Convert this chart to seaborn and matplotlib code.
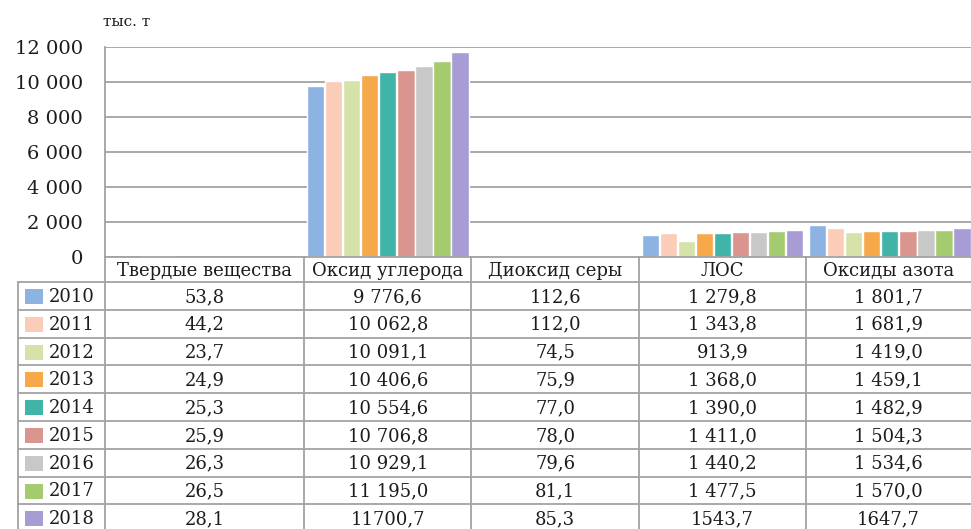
#import libraries
import pandas as pd
import seaborn as sns
import matplotlib.pyplot as plt
from matplotlib.patches import Rectangle

#data (table text as printed, values parsed from it)
categories = ['Твердые вещества', 'Оксид углерода', 'Диоксид серы', 'ЛОС', 'Оксиды азота']
years = ['2010', '2011', '2012', '2013', '2014', '2015', '2016', '2017', '2018']
solids = ['53,8', '44,2', '23,7', '24,9', '25,3', '25,9', '26,3', '26,5', '28,1']
carbon_oxide = ['9 776,6', '10 062,8', '10 091,1', '10 406,6', '10 554,6', '10 706,8', '10 929,1', '11 195,0', '11700,7']
sulfur_dioxide = ['112,6', '112,0', '74,5', '75,9', '77,0', '78,0', '79,6', '81,1', '85,3']
vocs = ['1 279,8', '1 343,8', '913,9', '1 368,0', '1 390,0', '1 411,0', '1 440,2', '1 477,5', '1543,7']
nitrogen_oxides = ['1 801,7', '1 681,9', '1 419,0', '1 459,1', '1 482,9', '1 504,3', '1 534,6', '1 570,0', '1647,7']
colors = ['#8DB3E2', '#FBCDB8', '#D6E3A8', '#F6A84B', '#3FB4A7', '#DA958F', '#C8C8C8', '#A5CB6F', '#A89CD5']
y_ticks = [0, 2000, 4000, 6000, 8000, 10000, 12000]
unit = 'тыс. т'

columns = [solids, carbon_oxide, sulfur_dioxide, vocs, nitrogen_oxides]

def to_num(s):
    return float(s.replace(' ', '').replace(',', '.'))

rows = []
for cat, col in zip(categories, columns):
    for yr, s in zip(years, col):
        rows.append({'category': cat, 'year': yr, 'value': to_num(s)})
df = pd.DataFrame(rows)

#style
sns.set_style('white')
plt.rcParams['font.family'] = ['DejaVu Serif']
grey = '#A3A3A3'
ink = '#1C1C1C'

W, H = 971, 529
fig = plt.figure(figsize=(W / 100, H / 100), dpi=100)
ax = fig.add_axes([105 / W, 1 - 257 / H, (W - 105) / W, (257 - 47) / H])

sns.barplot(data=df, x='category', y='value', hue='year', order=categories,
            hue_order=years, palette=colors, width=0.97, gap=0.04,
            saturation=1, legend=False, ax=ax)

ax.set_xlim(-0.69, 4.485)
ax.set_ylim(0, 12000)
ax.set_yticks(y_ticks)
ax.set_yticklabels([f'{v:,}'.replace(',', ' ') for v in y_ticks])
ax.set_xlabel('')
ax.set_ylabel('')
ax.tick_params(axis='x', bottom=False, labelbottom=False)
ax.tick_params(axis='y', length=12, width=1.3, color=grey, labelsize=14,
               pad=4, labelcolor=ink)
ax.grid(axis='y', color=grey, lw=1.3)
ax.set_axisbelow(True)
for side in ['top', 'right']:
    ax.spines[side].set_visible(False)
for side in ['left', 'bottom']:
    ax.spines[side].set_color(grey)
    ax.spines[side].set_linewidth(1.3)

fig.text(103 / W, 1 - 22 / H, unit, ha='left', va='center', fontsize=11, color=ink)

#data table under the chart, drawn in pixel coordinates
t = fig.add_axes([0, 0, 1, 1])
t.set_xlim(0, W)
t.set_ylim(H, 0)
t.axis('off')

left = 105
edges = [left] + [ax.transData.transform((k + 0.5, 0))[0] for k in range(len(categories) - 1)] + [W]
top = 257
head_h = 25
row_h = 27.8
row_tops = [top + head_h + i * row_h for i in range(len(years) + 1)]

#grid lines
for x in edges[:-1]:
    t.plot([x, x], [top, H + 5], color=grey, lw=1.3)
t.plot([18, 18], [row_tops[0], H + 5], color=grey, lw=1.3)
for y in row_tops:
    t.plot([18, W], [y, y], color=grey, lw=1.3)

#header
for i, cat in enumerate(categories):
    cx = (edges[i] + edges[i + 1]) / 2
    t.text(cx, top + head_h / 2 + 1, cat, ha='center', va='center', fontsize=13, color=ink)

#rows
for r, yr in enumerate(years):
    cy = row_tops[r] + row_h / 2 + 1
    t.add_patch(Rectangle((25, cy - 8), 18, 15, color=colors[r], lw=0))
    t.text(49, cy, yr, ha='left', va='center', fontsize=13, color=ink)
    for i, col in enumerate(columns):
        cx = (edges[i] + edges[i + 1]) / 2
        t.text(cx, cy, col[r], ha='center', va='center', fontsize=13, color=ink)

plt.savefig('out.png', dpi=100)
